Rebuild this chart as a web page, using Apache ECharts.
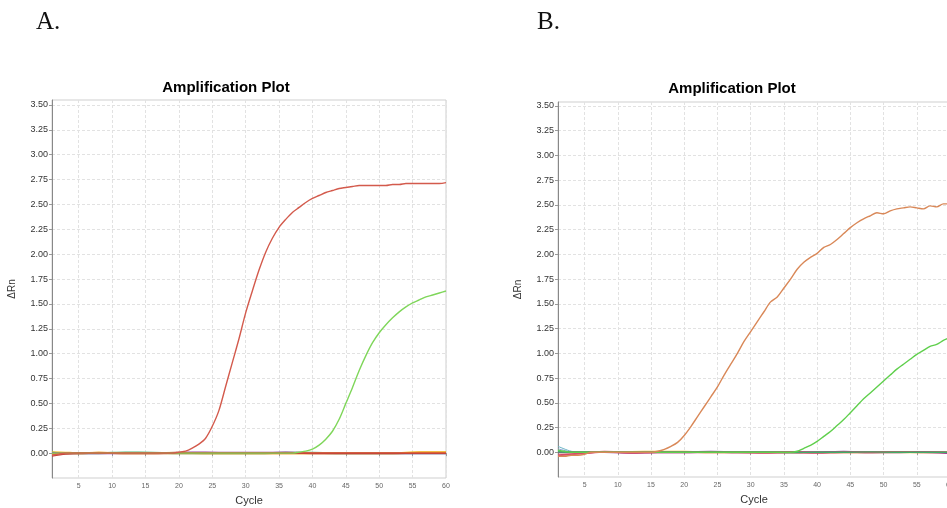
<!DOCTYPE html>
<html><head><meta charset="utf-8">
<script src="https://cdn.jsdelivr.net/npm/echarts@6/dist/echarts.min.js"></script>
<style>html,body{margin:0;padding:0;background:#fff}#c{width:947px;height:508px}</style>
</head><body><div id="c"></div>
<script>
// ---------- data ----------
var cycles = [1,2,3,4,5,6,7,8,9,10,11,12,13,14,15,16,17,18,19,20,21,22,23,24,25,26,27,28,29,30,31,32,33,34,35,36,37,38,39,40,41,42,43,44,45,46,47,48,49,50,51,52,53,54,55,56,57,58,59,60];
var xTicks = [5,10,15,20,25,30,35,40,45,50,55,60];
var yTicks = [0,0.25,0.5,0.75,1,1.25,1.5,1.75,2,2.25,2.5,2.75,3,3.25,3.5];

// Panel A
var aRed = [-0.02,-0.01,0,0,0,0,0,0,0,0,0,0,0,0,0,0,0,0,0,0.01,0.02,0.05,0.09,0.15,0.27,0.43,0.67,0.91,1.15,1.41,1.63,1.84,2.02,2.16,2.27,2.35,2.42,2.47,2.52,2.56,2.59,2.62,2.64,2.66,2.67,2.68,2.69,2.69,2.69,2.69,2.69,2.70,2.70,2.71,2.71,2.71,2.71,2.71,2.71,2.72];
var aGreen = [0,0,0,0,0,0,0,0,0,0,0,0,0,0,0,0,0,0,0,0,0,0,0,0,0,0,0,0,0,0,0,0,0,0,0,0,0,0.01,0.02,0.04,0.08,0.14,0.22,0.34,0.50,0.66,0.83,0.98,1.11,1.21,1.29,1.36,1.42,1.47,1.51,1.54,1.57,1.59,1.61,1.63];
// Panel B
var bOrange = [-0.04,-0.04,-0.03,-0.03,-0.02,0,0,0,0,0,0,0,0,0,0,0.01,0.03,0.06,0.10,0.17,0.26,0.36,0.46,0.56,0.66,0.78,0.89,1.00,1.12,1.22,1.32,1.42,1.52,1.57,1.66,1.75,1.85,1.92,1.97,2.01,2.07,2.10,2.15,2.21,2.27,2.32,2.36,2.39,2.42,2.41,2.44,2.46,2.47,2.48,2.47,2.46,2.49,2.48,2.51,2.51];
var bGreen = [0.02,0.01,0,0,0,0,0,0,0,0,0,0,0,0,0,0,0,0,0,0,0,0,0,0,0,0,0,0,0,0,0,0,0,0,0,0,0.01,0.04,0.07,0.11,0.16,0.21,0.27,0.33,0.40,0.47,0.54,0.60,0.66,0.72,0.78,0.84,0.89,0.94,0.99,1.03,1.07,1.09,1.13,1.16];

// near-zero baseline (negative / no-template) traces
var baseCycles = [1,3,5,8,12,16,20,24,28,32,36,40,44,48,52,56,60];
var aBaseYellow = [0.01,0.005,0,0.005,0,0,0.003,0,0,0,0,0,0,0,0,0.008,0.008];
var aBasePurple = [0,0,0,0,0,0,0.004,0.006,0.004,0.004,0.006,0,0,0,0,0,0];
var aBaseGreen  = [0.005,0,0,0,0.006,0.004,0,0,0,0,0.004,0.003,0,0,0,0,0];
var aBaseOrange = [-0.01,0,0,0.003,0,0,0,0,0,0,0,0,0,0,0,0.005,0.004];
var aBaseRed    = [-0.03,-0.01,0,0,0,0,0,0,0,0,0,0,0,0,0,0,0];
var bBaseTeal   = [0.06,0.01,0,0,0,0,0,0,0,0,0.004,0,0,0,0,0,0];
var bBaseBlue   = [0.035,0.005,0,0,0,0,0,0,0,0,0,0,0,0,0,0,-0.005];
var bBaseYellow = [0,0,0,0.003,0.003,0.005,0.005,0,0,0,0,0,0,0,0,0,0];
var bBasePurple = [0,0,0,0.003,-0.004,0,0,0.004,0,0,0.002,0,0.005,0,0,0.003,-0.01];
var bBaseRed    = [-0.03,-0.02,-0.01,0.005,-0.005,0,0,0,0,-0.004,0,-0.005,0,0,0.003,0,0];
var bBaseGreen  = [0.005,0,0,0,0,0,0,0,0,0,-0.003,0,0,0.003,0,0,0];

function pairs(xs, ys){ return xs.map(function(x,i){ return [x, ys[i]]; }); }

// ---------- chart ----------
var grids = [
  {left: 52, top: 100, width: 394, height: 378},
  {left: 558, top: 102, width: 392, height: 375}
];
function xAx(i){
  return {
    type:'value', gridIndex:i, min:1, max:60,
    name:'Cycle', nameLocation:'middle', nameGap:17,
    nameTextStyle:{fontFamily:'Liberation Sans', fontSize:11, color:'#333'},
    axisLine:{show:true, lineStyle:{color:'#888', width:1}},
    axisTick:{show:true, length:3, customValues:xTicks, lineStyle:{color:'#999'}},
    axisLabel:{customValues:xTicks, fontFamily:'Liberation Sans', fontSize:7, color:'#666', margin:5},
    splitLine:{show:true, lineStyle:{color:'#e2e2e2', type:[3,2], width:1}}
  };
}
function yAx(i, max){
  return {
    type:'value', gridIndex:i, min:-0.25, max:max, interval:0.25,
    name:'\u0394Rn', nameLocation:'middle', nameGap:35,
    nameTextStyle:{fontFamily:'Liberation Sans', fontSize:10, color:'#333'},
    axisLine:{show:true, lineStyle:{color:'#888', width:1}},
    axisTick:{show:true, length:3, customValues:yTicks, lineStyle:{color:'#999'}},
    axisLabel:{customValues:yTicks, fontFamily:'Liberation Sans', fontSize:9, color:'#333', margin:4,
      formatter:function(v){ return Number(v).toFixed(2); }},
    splitLine:{show:true, lineStyle:{color:'#e2e2e2', type:[3,2], width:1}}
  };
}
function line(name, data, color, gi, w){
  return {name:name, type:'line', xAxisIndex:gi, yAxisIndex:gi, data:data, smooth:0.3,
    showSymbol:false, silent:true, lineStyle:{color:color, width:w||1.4}, animation:false};
}

var series = [
  line('A-yellow', pairs(baseCycles,aBaseYellow), '#f2bd1d', 0, 2),
  line('A-green0', pairs(baseCycles,aBaseGreen), '#4cb87a', 0, 2),
  line('A-purple', pairs(baseCycles,aBasePurple), '#9b3fa8', 0, 2),
  line('A-orange', pairs(baseCycles,aBaseOrange), '#ef8a2a', 0, 2),
  line('A-red0', pairs(baseCycles,aBaseRed), '#c8443a', 0, 1.5),
  line('A-green', pairs(cycles,aGreen), '#7fd65a', 0, 1.4),
  line('A-red', pairs(cycles,aRed), '#d35a4c', 0, 1.4),
  line('B-teal', pairs(baseCycles,bBaseTeal), '#6ab4c4', 1, 1),
  line('B-blue', pairs(baseCycles,bBaseBlue), '#8aa4d4', 1, 1),
  line('B-yellow', pairs(baseCycles,bBaseYellow), '#f0c030', 1, 2),
  line('B-purple', pairs(baseCycles,bBasePurple), '#8e3aa0', 1, 2),
  line('B-red0', pairs(baseCycles,bBaseRed), '#d84a6a', 1, 2),
  line('B-green0', pairs(baseCycles,bBaseGreen), '#3fae68', 1, 1.3),
  line('B-green', pairs(cycles,bGreen), '#5fcf4c', 1, 1.4),
  line('B-orange', pairs(cycles,bOrange), '#d98858', 1, 1.4)
];

var chart = echarts.init(document.getElementById('c'), null, {renderer:'canvas'});
chart.setOption({
  animation:false,
  backgroundColor:'#fff',
  grid: grids.map(function(g){ return Object.assign({show:true, borderColor:'#cfcfcf', borderWidth:1, containLabel:false, outerBoundsMode:'none'}, g); }),
  xAxis:[xAx(0), xAx(1)],
  yAxis:[yAx(0,3.55), yAx(1,3.54)],
  series: series,
  graphic:[
    {type:'text', left:36, top:10, style:{text:'A.', font:'25px "Liberation Serif"', fill:'#111'}},
    {type:'text', left:537, top:10, style:{text:'B.', font:'25px "Liberation Serif"', fill:'#111'}},
    {type:'text', x:226, y:80, style:{text:'Amplification Plot', font:'bold 15px "Liberation Sans"', fill:'#000', align:'center', verticalAlign:'top'}},
    {type:'text', x:732, y:81, style:{text:'Amplification Plot', font:'bold 15px "Liberation Sans"', fill:'#000', align:'center', verticalAlign:'top'}}
  ]
});
</script></body></html>
